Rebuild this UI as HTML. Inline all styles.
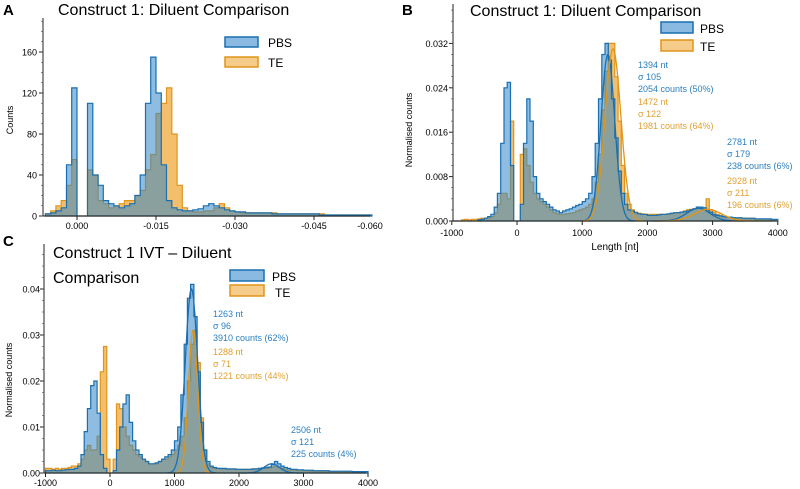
<!DOCTYPE html>
<html><head><meta charset="utf-8"><style>
body{margin:0;background:#fff}
svg{display:block;font-family:"Liberation Sans",sans-serif}
</style></head><body>
<svg id="fig" width="800" height="489" viewBox="0 0 800 489">
<g>
<text x="3" y="15" font-size="15" font-weight="bold">A</text>
<text x="58" y="15" font-size="16">Construct 1:  Diluent Comparison</text>
<text transform="translate(13,120) rotate(-90)" font-size="9" text-anchor="middle">Counts</text>
<g id="ga"></g>
<rect x="225" y="37" width="33" height="10" fill="rgba(60,140,205,0.6)" stroke="#1a6fb0" stroke-width="1.5"/>
<text x="268" y="47" font-size="12">PBS</text>
<rect x="225" y="57" width="33" height="10" fill="rgba(238,170,60,0.6)" stroke="#e0951a" stroke-width="1.5"/>
<text x="268" y="67" font-size="12">TE</text>
</g>
<g>
<text x="402" y="15" font-size="15" font-weight="bold">B</text>
<text x="470" y="16" font-size="16">Construct 1:  Diluent Comparison</text>
<text transform="translate(412,130) rotate(-90)" font-size="9" text-anchor="middle">Normalised counts</text>
<text x="615" y="250" font-size="10" text-anchor="middle">Length [nt]</text>
<g id="gb"></g>
<rect x="661" y="22" width="32" height="11" fill="rgba(60,140,205,0.6)" stroke="#1a6fb0" stroke-width="1.5"/>
<text x="700" y="33" font-size="12">PBS</text>
<rect x="661" y="40" width="32" height="11" fill="rgba(238,170,60,0.6)" stroke="#e0951a" stroke-width="1.5"/>
<text x="700" y="51" font-size="12">TE</text>
<g font-size="9">
<text x="638" y="68" fill="#2a7fc0">1394 nt</text><text x="638" y="80" fill="#2a7fc0">σ 105</text><text x="638" y="92" fill="#2a7fc0">2054 counts (50%)</text>
<text x="638" y="105" fill="#e0a030">1472 nt</text><text x="638" y="117" fill="#e0a030">σ 122</text><text x="638" y="129" fill="#e0a030">1981 counts (64%)</text>
<text x="727" y="145" fill="#2a7fc0">2781 nt</text><text x="727" y="157" fill="#2a7fc0">σ 179</text><text x="727" y="169" fill="#2a7fc0">238 counts (6%)</text>
<text x="727" y="184" fill="#e0a030">2928 nt</text><text x="727" y="196" fill="#e0a030">σ 211</text><text x="727" y="208" fill="#e0a030">196 counts (6%)</text>
</g>
</g>
<g>
<text x="3" y="246" font-size="15" font-weight="bold">C</text>
<text x="53" y="258" font-size="16">Construct 1 IVT – Diluent</text>
<text x="53" y="283" font-size="16">Comparison</text>
<text transform="translate(12,380) rotate(-90)" font-size="9" text-anchor="middle">Normalised counts</text>
<g id="gc"></g>
<rect x="230" y="270" width="34" height="11" fill="rgba(60,140,205,0.6)" stroke="#1a6fb0" stroke-width="1.5"/>
<text x="272" y="281" font-size="12">PBS</text>
<rect x="230" y="285" width="34" height="11" fill="rgba(238,170,60,0.6)" stroke="#e0951a" stroke-width="1.5"/>
<text x="275" y="297" font-size="12">TE</text>
<g font-size="9">
<text x="213" y="317" fill="#2a7fc0">1263 nt</text><text x="213" y="329" fill="#2a7fc0">σ 96</text><text x="213" y="341" fill="#2a7fc0">3910 counts (62%)</text>
<text x="213" y="355" fill="#e0a030">1288 nt</text><text x="213" y="367" fill="#e0a030">σ 71</text><text x="213" y="379" fill="#e0a030">1221 counts (44%)</text>
<text x="291" y="433" fill="#2a7fc0">2506 nt</text><text x="291" y="445" fill="#2a7fc0">σ 121</text><text x="291" y="457" fill="#2a7fc0">225 counts (4%)</text>
</g>
</g>
</svg>
<script>
// Panel A (bins of 0.001 from +0.006 down to -0.056)
const aPBS=[2,3,5,8,50,125,0,0,110,40, 30,15,12,10,8,10,12,20,40,110, 155,120,50,15,8,6,5,5,6,7, 10,12,10,8,6,5,4,4,3,3, 3,3,3,2,2,2,2,2,2,2, 2,2,1,1,1,1,1,1,1,1, 1,1];
const aTE=[2,5,10,15,30,55,0,0,45,40, 15,12,8,10,12,15,15,20,25,45, 60,100,110,125,80,30,8,5,4,4, 5,5,8,12,8,5,4,3,3,3, 3,3,3,3,2,2,2,2,2,2, 2,2,2,1,1,1,1,1,1,1, 1,1];
const aYTicks=[0,40,80,120,160];
const aXTicks=[0,-0.015,-0.030,-0.045];
const aXTickLabels=["0.000","-0.015","-0.030","-0.045"];
// Panel B (bins of 50 nt from -1000), units 1e-3
const bPBS=[0,0,0,0,0,0,0,0,0.2,0.3, 0.5,0.8,1.2,2.5,5,14,24,25,10,0, 0,3,14,22,18,8,5,4,3.5,3, 2.5,2,1.8,1.5,1.8,2,2.2,2.5,2.8,3, 3.5,4,5,8,14,22,30,32,29,22, 15,9,5,3,2,1.8,1.5,1.3,1.2,1.2, 1,1,1,1.1,1.2,1.2,1.3,1.4,1.5,1.5, 1.6,1.7,1.8,2,2.2,2.5,2.5,2.4,2,1.6, 1.2,1,0.9,0.8,0.7,0.7,0.6,0.6,0.6,0.5, 0.5,0.5,0.5,0.4,0.4,0.4,0.4,0.4,0.3,0.3];
const bTE=[0,0,0,0.2,0.3,0.2,0.3,0.3,0.4,0.5, 0.5,0.6,0.8,1.5,3,5,5,4,18,0, 0,12,13,10,7,5,4,3.5,3,2.5, 2,1.5,1.3,1.2,1.2,1.3,1.4,1.5,1.8,2, 2.2,2.5,3,4,7,12,20,27,32,32, 26,18,10,5,3,2,1.6,1.4,1.3,1.2, 1.2,1.2,1.2,1.2,1.2,1.2,1.2,1.3,1.4,1.5, 1.6,1.8,2,2.1,2.2,2.3,2.3,2.3,4,2, 1.6,1.2,1,0.8,0.7,0.6,0.6,0.5,0.5,0.5, 0.4,0.4,0.4,0.3,0.3,0.3,0.3,0.2,0.2,0.2];
const bFitMu=[1394,1472,2781,2928];
const bFitSigma=[105,122,179,211];
const bFitPeak=[30,31,2.3,2.1];
const bYTicks=[0,8,16,24,32];
const bYTickLabels=["0.000","0.008","0.016","0.024","0.032"];
// Panel C (bins of 50 nt from -1000), units 1e-3
const cPBS=[0.5,0.5,0.6,0.5,0.5,0.6,0.7,0.8,0.8,1, 1.5,4,9,14,19,20,13,4,1,0, 0,0.5,5,10,15,17,11,7,5,4, 3,2.5,2,2,2.2,2.5,3,3.5,4,5, 7,10,17,28,38,41,34,22,11,5, 2.5,1.5,1.2,1,1,1,0.9,0.9,0.9,0.8, 0.8,0.8,0.8,0.8,0.9,0.9,1,1.1,1.2,1.3, 1.8,2.5,2,1.5,1.2,1,0.8,0.8,0.7,0.7, 0.6,0.6,0.6,0.5,0.5,0.5,0.5,0.5,0.4,0.4, 0.4,0.4,0.4,0.4,0.4,0.3,0.3,0.3,0.3,0.3];
const cTE=[1,1,0.8,1,0.8,1,1,1.2,1.5,1.5, 2,3,5,6,5,5,8,22,27.5,3, 0,3,15,14,10,8,6,5,4,3.5, 3,2.5,2,2,2,2.5,3,3,3.5,4, 5,6,8,12,20,28,31,24,12,5, 2,1.2,1,1,0.9,0.9,0.8,0.8,0.8,0.8, 0.8,0.8,0.8,0.8,0.8,0.9,0.9,1,1,1.1, 1.3,1.4,1.2,1,0.8,0.7,0.6,0.6,0.5,0.5, 0.5,0.4,0.4,0.4,0.4,0.3,0.3,0.3,0.3,0.3, 0.3,0.2,0.2,0.2,0.2,0.2,0.2,0.2,0.2,0.2];
const cFitMu=[1263,1288,2506];
const cFitSigma=[96,71,121];
const cFitPeak=[40,31,2];
const cYTicks=[0,10,20,30,40];
const cYTickLabels=["0.00","0.01","0.02","0.03","0.04"];
const lenTicks=[-1000,0,1000,2000,3000,4000];

const NS="http://www.w3.org/2000/svg";
function mk(parent,tag,attrs){const e=document.createElementNS(NS,tag);for(const k in attrs)e.setAttribute(k,attrs[k]);parent.appendChild(e);return e;}
const BLUE_F="rgba(50,135,200,0.55)",BLUE_S="#1a6fb0",OR_F="rgba(240,170,60,0.75)",OR_S="#e0951a";

function histPath(data,xStart,binW,xs,ys){
  let d="M"+xs(xStart).toFixed(1)+","+ys(0).toFixed(1);
  data.forEach((v,i)=>{const x0=xs(xStart+i*binW),x1=xs(xStart+(i+1)*binW),y=ys(v);
    d+=" L"+x0.toFixed(1)+","+y.toFixed(1)+" L"+x1.toFixed(1)+","+y.toFixed(1);});
  d+=" L"+xs(xStart+data.length*binW).toFixed(1)+","+ys(0).toFixed(1)+" Z";return d;
}
function drawHist(g,data,xStart,binW,xs,ys,fill,stroke,name){
  const p=mk(g,"path",{d:histPath(data,xStart,binW,xs,ys),fill:fill,stroke:stroke,"stroke-width":"1.2","stroke-linejoin":"miter"});
  
  
}
function drawFits(g,mu,sg,pk,colors,xs,ys,name){
  mu.forEach((m,k)=>{let d="";for(let x=m-4*sg[k];x<=m+4*sg[k];x+=5){const y=pk[k]*Math.exp(-0.5*((x-m)/sg[k])**2);d+=(d?" L":"M")+xs(x).toFixed(1)+","+ys(y).toFixed(1);}
    const p=mk(g,"path",{d:d,fill:"none",stroke:colors[k],"stroke-width":"1.3"});
    
    });
}
function axes(g,x0,x1,yTop,yBase,yt,ytl,ys,xt,xtl,xs,ylabX,xlabY,fs,minor){
  const ax=mk(g,"line",{x1:x0,y1:yTop,x2:x0,y2:yBase,stroke:"#222","stroke-width":"1"});
  
  
  const bx=mk(g,"line",{x1:x0,y1:yBase,x2:x1,y2:yBase,stroke:"#222","stroke-width":"1"});
  
  
  yt.forEach((v,i)=>{const y=ys(v);mk(g,"line",{x1:x0-4,y1:y,x2:x0,y2:y,stroke:"#222"});
    const t=mk(g,"text",{x:ylabX,y:y+3.5,"font-size":fs,"text-anchor":"end"});t.textContent=ytl[i];
    
    });
  for(let y=yBase;y>=yTop;y-=minor)mk(g,"line",{x1:x0-2,y1:y,x2:x0,y2:y,stroke:"#444","stroke-width":"0.6"});
  xt.forEach((v,i)=>{const x=xs(v);mk(g,"line",{x1:x,y1:yBase,x2:x,y2:yBase+4,stroke:"#222"});
    const t=mk(g,"text",{x:x,y:xlabY,"font-size":fs,"text-anchor":"middle"});t.textContent=xtl[i];
    
    });
}
// Panel A
(function(){const g=document.getElementById("ga");
  const xs=v=>77+(-v)/0.015*79, ys=v=>216-v*41/40;
  drawHist(g,aTE,0.006,-0.001,xs,ys,OR_F,OR_S,'hist-a-te');
  drawHist(g,aPBS,0.006,-0.001,xs,ys,BLUE_F,BLUE_S,'hist-a-pbs');
  axes(g,43,370,18,216,aYTicks,aYTicks.map(String),ys,aXTicks,aXTickLabels,xs,37,229,9,10.25);
  const t=mk(g,"text",{x:370,y:229,"font-size":9,"text-anchor":"middle"});t.textContent="-0.060";
  
  
})();
// Panel B
(function(){const g=document.getElementById("gb");
  const xs=v=>517+v*0.0652, ys=v=>221-v*44.4/8;
  drawHist(g,bTE,-1000,50,xs,ys,OR_F,OR_S,'hist-b-te');
  drawHist(g,bPBS,-1000,50,xs,ys,BLUE_F,BLUE_S,'hist-b-pbs');
  drawFits(g,bFitMu,bFitSigma,bFitPeak,[BLUE_S,OR_S,BLUE_S,OR_S],xs,ys,'fit-b');
  axes(g,453,777,4,221,bYTicks,bYTickLabels,ys,lenTicks,lenTicks.map(String),xs,448,236,9,11.1);
})();
// Panel C
(function(){const g=document.getElementById("gc");
  const xs=v=>110+v*0.0645, ys=v=>473-v*4.6;
  drawHist(g,cTE,-1000,50,xs,ys,OR_F,OR_S,'hist-c-te');
  drawHist(g,cPBS,-1000,50,xs,ys,BLUE_F,BLUE_S,'hist-c-pbs');
  drawFits(g,cFitMu,cFitSigma,cFitPeak,[BLUE_S,OR_S,BLUE_S],xs,ys,'fit-c');
  axes(g,44,366,244,473,cYTicks,cYTickLabels,ys,lenTicks,lenTicks.map(String),xs,40,486,9,11.5);
})();
</script>
</body></html>
